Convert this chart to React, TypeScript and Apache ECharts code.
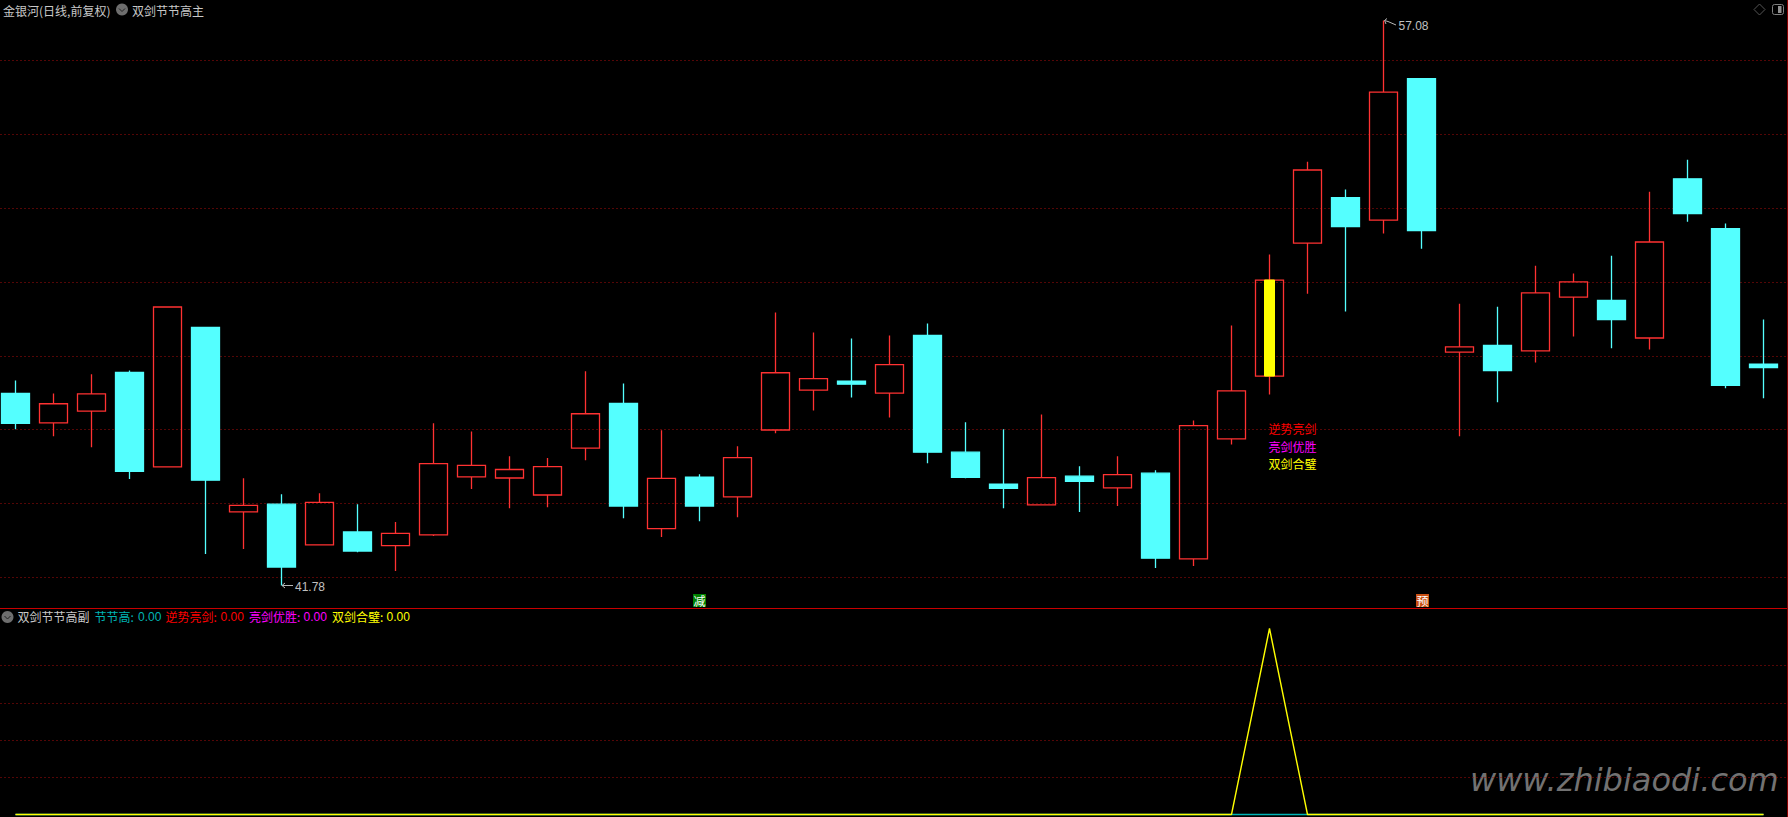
import React, { useEffect, useRef } from "react";
import * as echarts from "echarts";

const opens = [46.98,46.18,46.5,47.55,44.99,48.77,43.77,43.98,42.88,43.23,42.86,43.15,44.72,44.69,44.23,45.5,46.71,43.32,44.71,44.18,45.99,47.07,47.31,46.99,48.55,45.39,44.52,43.96,44.74,44.42,44.82,42.5,45.75,47.45,51.05,52.28,51.67,55.5,48.1,48.28,48.13,49.59,49.5,48.48,52.79,51.44,47.77];
const closes = [46.17,46.7,46.97,44.87,49.32,44.63,43.95,42.28,44.03,42.71,43.19,45.08,45.03,44.92,45,46.43,43.93,44.68,43.93,45.24,47.54,47.38,47.23,47.76,45.39,44.71,44.41,44.7,44.6,44.78,42.52,46.11,47.05,50.05,53.03,51.5,55.14,51.39,48.24,47.6,49.7,50,48.98,51.08,51.85,47.2,47.68];
const lows = [46.01,45.82,45.52,44.66,44.99,42.63,42.77,41.78,42.88,42.68,42.17,43.12,44.39,43.87,43.9,45.17,43.6,43.09,43.52,43.63,45.9,46.52,46.87,46.33,45.09,44.68,43.87,43.96,43.77,43.93,42.25,42.31,45.6,46.95,49.68,49.2,51.31,50.9,45.82,46.74,47.82,48.52,48.2,48.17,51.63,47.12,46.85];
const highs = [47.33,46.98,47.5,47.6,49.32,48.77,44.68,44.25,44.28,43.98,43.5,46.17,45.95,45.28,45.23,47.58,47.25,45.98,44.79,45.55,49.17,48.63,48.47,48.55,48.87,46.2,46.01,46.41,45.01,45.28,44.9,46.25,48.82,50.74,53.25,52.5,57.08,55.5,49.41,49.33,50.44,50.23,50.71,52.44,53.31,51.58,48.98];
const categories = opens.map((_, i) => String(i + 1));
const signalIndex = 33;
const jieJieGao = opens.map(() => 0);
const niShi = opens.map(() => 0);
const liangJian = opens.map(() => 0);
const shuangJian = opens.map((_, i) => (i === signalIndex ? 5 : 0));

const CN = '"Noto Sans CJK SC", sans-serif';
const LAT = '"Liberation Sans", sans-serif';
const RED = "#ff3232";
const CYAN = "#54ffff";
const GRID = "#a80c0c";

function label(text: string, x: number, y: number, fill: string, family = CN, extra: any = {}) {
  return {
    type: "text",
    silent: true,
    style: { text, x, y, fill, font: `12px ${family}`, verticalAlign: "middle", textVerticalAlign: "middle", ...extra },
  };
}
function chevronCircle(cx: number, cy: number) {
  return [
    { type: "circle", shape: { cx, cy, r: 6 }, style: { fill: "#6e6e6e" } },
    { type: "polyline", shape: { points: [[cx - 3, cy - 1], [cx, cy + 2], [cx + 3, cy - 1]] }, style: { stroke: "#222", lineWidth: 1, fill: "none" } },
  ];
}
function flag(text: string, cx: number, cy: number, bg: string) {
  return [
    { type: "rect", shape: { x: cx - 6.5, y: cy - 6.5, width: 13, height: 13 }, style: { fill: bg } },
    { type: "text", style: { text, x: cx, y: cy, fill: "#ffffff", font: `12px ${CN}`, textAlign: "center", verticalAlign: "middle", textVerticalAlign: "middle" } },
  ];
}

export default function App() {
  const ref = useRef<HTMLDivElement>(null);
  useEffect(() => {
    const chart = echarts.init(ref.current!, null, { renderer: "svg" });
    const hideX = { type: "category", data: [...categories, ""], boundaryGap: true, show: false };
    const dotted = { show: true, showMinLine: false, showMaxLine: false, lineStyle: { color: GRID, type: [1, 3], width: 1 } };
    chart.setOption({
      animation: false,
      backgroundColor: "#000000",
      grid: [
        { left: -3.5, width: 1824, top: -13.56, height: 664.76, outerBoundsMode: "none" },
        { left: -3.5, width: 1824, top: 628.5, height: 186, outerBoundsMode: "none" },
      ],
      xAxis: [{ ...hideX, gridIndex: 0 }, { ...hideX, gridIndex: 1 }],
      yAxis: [
        { type: "value", gridIndex: 0, min: 40, max: 58, interval: 2, axisLabel: { show: false }, axisLine: { show: false }, axisTick: { show: false }, splitLine: dotted },
        { type: "value", gridIndex: 1, min: 0, max: 5, interval: 1, axisLabel: { show: false }, axisLine: { show: false }, axisTick: { show: false }, splitLine: dotted },
      ],
      series: [
        {
          type: "candlestick",
          name: "金银河",
          xAxisIndex: 0,
          yAxisIndex: 0,
          barWidth: 28,
          data: opens.map((o, i) => [o, closes[i], lows[i], highs[i]]),
          itemStyle: { color: "transparent", color0: CYAN, borderColor: RED, borderColor0: CYAN, borderWidth: 1.3 },
        },
        {
          type: "candlestick",
          name: "信号",
          xAxisIndex: 0,
          yAxisIndex: 0,
          barWidth: 10,
          data: opens.map((o, i) => (i === signalIndex ? [o, closes[i], o, closes[i]] : ["-", "-", "-", "-"])),
          itemStyle: { color: "#ffff00", color0: "#ffff00", borderColor: "#ffff00", borderColor0: "#ffff00", borderWidth: 1 },
        },
        ...[
          ["亮剑优胜", liangJian, "#ff00ff", 0.6],
          ["逆势亮剑", niShi, "#ff0000", 0.6],
          ["节节高", jieJieGao, "#00b4b4", 1.4],
          ["双剑合璧", shuangJian, "#ffff00", 1.4],
        ].map(([name, data, color, width]) => ({
          type: "line",
          name,
          data,
          xAxisIndex: 1,
          yAxisIndex: 1,
          symbol: "none",
          clip: false,
          lineStyle: { color, width },
        })),
      ],
      graphic: [
        { type: "line", shape: { x1: 0, y1: 608.5, x2: 1788, y2: 608.5 }, style: { stroke: "#c80000", lineWidth: 1 } },
        { type: "line", shape: { x1: 1787.5, y1: 0, x2: 1787.5, y2: 817 }, style: { stroke: "#8a0000", lineWidth: 1 } },
        // header
        label("金银河(日线,前复权)", 3, 10, "#c8c8c8"),
        ...chevronCircle(122, 9.5),
        label("双剑节节高主", 132, 10, "#c8c8c8"),
        { type: "polygon", shape: { points: [[1759.5, 4], [1765, 9.5], [1759.5, 15], [1754, 9.5]] }, style: { stroke: "#555555", fill: "none", lineWidth: 1 } },
        { type: "rect", shape: { x: 1772.5, y: 4.5, width: 11, height: 10, r: 2 }, style: { stroke: "#808080", fill: "none", lineWidth: 1 } },
        { type: "rect", shape: { x: 1778, y: 6, width: 3.5, height: 7 }, style: { fill: "#909090" } },
        // extreme labels
        { type: "polyline", shape: { points: [[1384.5, 20.5], [1388, 21.5], [1396, 25]] }, style: { stroke: "#b8b8b8", fill: "none", lineWidth: 1 } },
        { type: "polyline", shape: { points: [[1387, 18.5], [1384.5, 20.5], [1386, 24]] }, style: { stroke: "#b8b8b8", fill: "none", lineWidth: 1 } },
        label("57.08", 1398.5, 26, "#c0c0c0", LAT),
        { type: "line", shape: { x1: 282, y1: 585.5, x2: 293, y2: 585.5 }, style: { stroke: "#b8b8b8", lineWidth: 1 } },
        { type: "polyline", shape: { points: [[285, 583], [282, 585.5], [285, 588]] }, style: { stroke: "#b8b8b8", fill: "none", lineWidth: 1 } },
        label("41.78", 295, 586.5, "#c0c0c0", LAT),
        // signal texts
        label("逆势亮剑", 1268.5, 428, "#ff0000"),
        label("亮剑优胜", 1268.5, 446, "#ff00ff"),
        label("双剑合璧", 1268.5, 463, "#ffff00"),
        ...flag("减", 699.5, 600.5, "#008000"),
        ...flag("预", 1422.5, 600.5, "#c85014"),
        // lower legend
        ...chevronCircle(7.5, 617),
        label("双剑节节高副", 17.5, 616.5, "#c8c8c8"),
        label("节节高:", 94.5, 616.5, "#00b4b4"),
        label("0.00", 138, 616.5, "#00b4b4", LAT),
        label("逆势亮剑:", 165.5, 616.5, "#ff0000"),
        label("0.00", 220.5, 616.5, "#ff0000", LAT),
        label("亮剑优胜:", 249, 616.5, "#ff00ff"),
        label("0.00", 303.5, 616.5, "#ff00ff", LAT),
        label("双剑合璧:", 332, 616.5, "#ffff00"),
        label("0.00", 386.5, 616.5, "#ffff00", LAT),
        // watermark
        {
          type: "text",
          silent: true,
          style: {
            text: "www.zhibiaodi.com",
            x: 1470,
            y: 780,
            fill: "#727272",
            font: 'oblique 32px "DejaVu Sans", sans-serif',
            verticalAlign: "middle",
            textVerticalAlign: "middle",
            shadowBlur: 6,
            shadowColor: "#3a3a3a",
            shadowOffsetY: 3,
          },
        },
      ],
    });
    return () => chart.dispose();
  }, []);
  return <div ref={ref} style={{ position: "fixed", left: 0, top: 0, width: 1788, height: 817, background: "#000" }} />;
}
